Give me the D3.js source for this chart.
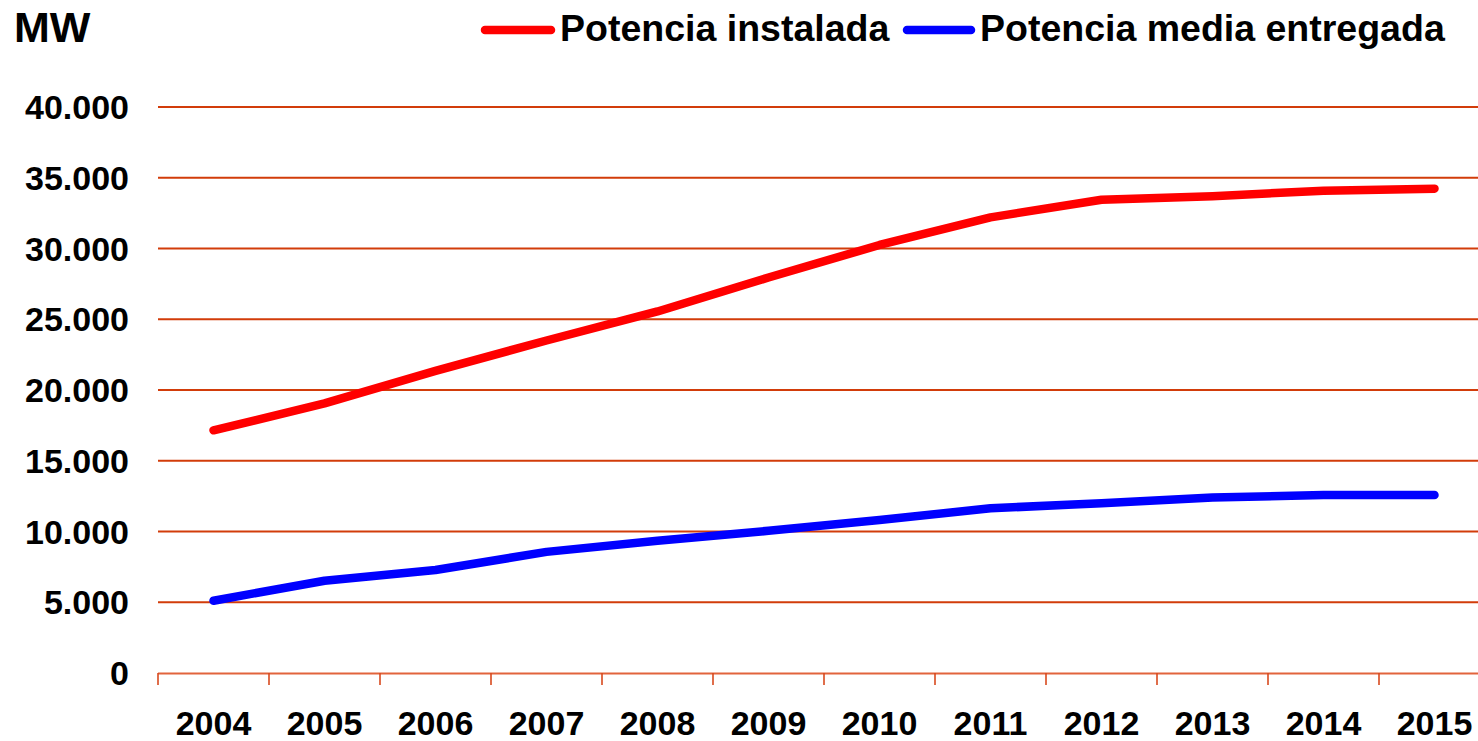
<!DOCTYPE html>
<html>
<head>
<meta charset="utf-8">
<script src="https://cdn.jsdelivr.net/npm/d3@7"></script>
<style>
  html, body { margin: 0; padding: 0; background: #fff; }
  svg { display: block; }
  text { font-family: "Liberation Sans", Arial, sans-serif; font-weight: bold; fill: #000; }
</style>
</head>
<body>
<svg id="chart" width="1478" height="741"></svg>
<script>
const years = ["2004","2005","2006","2007","2008","2009","2010","2011","2012","2013","2014","2015"];
const potenciaInstalada = [17150, 19050, 21350, 23500, 25550, 27950, 30250, 32200, 33450, 33700, 34080, 34230];
const potenciaMedia = [5110, 6520, 7280, 8560, 9350, 10050, 10810, 11640, 12000, 12400, 12580, 12580];
const yTicks = [0, 5000, 10000, 15000, 20000, 25000, 30000, 35000, 40000];
const yTickLabels = ["0", "5.000", "10.000", "15.000", "20.000", "25.000", "30.000", "35.000", "40.000"];
const seriesNames = ["Potencia instalada", "Potencia media entregada"];
const seriesColors = ["#ff0000", "#0000ff"];
const unitLabel = "MW";

(function () {
const svg = d3.select("#chart");
const pLeft = 158, pRight = 1490, pTop = 107, pBottom = 673;

const x = d3.scaleBand().domain(years).range([pLeft, pRight]).paddingInner(0).paddingOuter(0);
const y = d3.scaleLinear().domain([0, 40000]).range([pBottom, pTop]);
const gridColor = "#d23c0a";

// gridlines
svg.append("g").selectAll("line").data(yTicks.filter(d => d > 0)).join("line")
  .attr("x1", pLeft).attr("x2", pRight)
  .attr("y1", d => y(d)).attr("y2", d => y(d))
  .attr("stroke", gridColor).attr("stroke-width", 2.2);

// y labels
svg.append("g").selectAll("text").data(yTicks).join("text")
  .attr("x", 129).attr("y", d => y(d)).attr("dy", "0.36em")
  .attr("text-anchor", "end").attr("font-size", 34)
  .text((d, i) => yTickLabels[i]);

// x axis
const xAxis = d3.axisBottom(x).tickSize(12).tickSizeOuter(0).tickFormat("");
const xg = svg.append("g").attr("transform", `translate(0,${pBottom})`).call(xAxis);
xg.select(".domain").attr("stroke", "#e2643c").attr("stroke-width", 2).attr("d", `M${pLeft},0.5H${pRight}`);
xg.selectAll(".tick").remove();
const boundaries = years.map(d => x(d)).concat([pRight]);
xg.append("g").selectAll("line").data(boundaries).join("line")
  .attr("x1", d => d).attr("x2", d => d).attr("y1", 0).attr("y2", 12)
  .attr("stroke", "#d84a1e").attr("stroke-width", 1.6);

svg.append("g").selectAll("text").data(years).join("text")
  .attr("x", d => x(d) + x.bandwidth() / 2).attr("y", 735)
  .attr("text-anchor", "middle").attr("font-size", 34)
  .text(d => d);

// lines
const line = d3.line().x((d, i) => x(years[i]) + x.bandwidth() / 2).y(d => y(d));
[potenciaInstalada, potenciaMedia].forEach((vals, i) => {
  svg.append("path").datum(vals)
    .attr("d", line).attr("fill", "none")
    .attr("stroke", seriesColors[i]).attr("stroke-width", 8.5)
    .attr("stroke-linecap", "round").attr("stroke-linejoin", "round");
});

// unit label
svg.append("text").attr("x", 14).attr("y", 42).attr("font-size", 43).text(unitLabel);

// legend
const legendItems = [
  { name: seriesNames[0], color: seriesColors[0], x1: 485, x2: 551, tx: 560 },
  { name: seriesNames[1], color: seriesColors[1], x1: 907, x2: 971, tx: 980 }
];
const lg = svg.append("g");
legendItems.forEach(it => {
  lg.append("line").attr("x1", it.x1).attr("x2", it.x2).attr("y1", 30).attr("y2", 30)
    .attr("stroke", it.color).attr("stroke-width", 8.5).attr("stroke-linecap", "round");
  lg.append("text").attr("x", it.tx).attr("y", 41).attr("font-size", 37.5).text(it.name);
});
})();
</script>
</body>
</html>
